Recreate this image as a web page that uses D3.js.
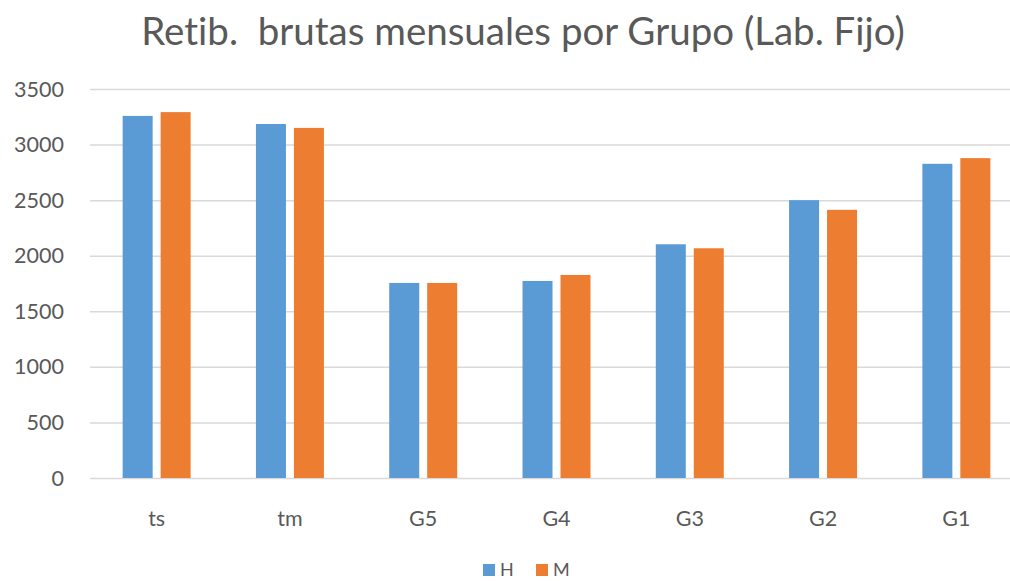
<!DOCTYPE html>
<html>
<head>
<meta charset="utf-8">
<script src="https://cdn.jsdelivr.net/npm/d3@7/dist/d3.min.js"></script>
<style>
    body { margin: 0; background: #fff; }
    text { font-family: Lato, "Open Sans", sans-serif; fill: #595959; font-variant-ligatures: none; }
</style>
</head>
<body>
<svg id="chart" width="1010" height="581"></svg>
<script>
// data
var groups = ['ts', 'tm', 'G5', 'G4', 'G3', 'G2', 'G1'];
var series = ['H', 'M'];
var valuesH = [3258, 3185, 1755, 1773, 2103, 2500, 2827];
var valuesM = [3292, 3150, 1755, 1827, 2067, 2413, 2878];
var yTicks = [0, 500, 1000, 1500, 2000, 2500, 3000, 3500];
var colors = { H: '#5B9BD5', M: '#ED7D31' };

var W = 1010, H = 581;
var m = { left: 90, right: -13, top: 89, bottom: 103 }; //plot is cut on the right

var svg = d3.select('#chart');

var x0 = d3.scaleBand()
    .domain(groups)
    .range([m.left, W - m.right])
    .paddingInner(0.49)
    .paddingOuter(0.245);

var x1 = d3.scaleBand()
    .domain(series)
    .range([0, x0.bandwidth()])
    .paddingInner(0.21);

var y = d3.scaleLinear()
    .domain([0, 3500])
    .range([H - m.bottom, m.top]);

//grid
svg.append('g')
    .selectAll('line')
    .data(yTicks)
    .join('line')
        .attr('x1', m.left)
        .attr('x2', W)
        .attr('y1', function (d) { return y(d) + 0.5; })
        .attr('y2', function (d) { return y(d) + 0.5; })
        .attr('stroke', '#D9D9D9')
        .attr('stroke-width', 1.5);

//y labels
svg.append('g')
    .selectAll('text')
    .data(yTicks)
    .join('text')
        .attr('x', 64)
        .attr('y', function (d) { return y(d); })
        .attr('dy', '0.35em')
        .attr('text-anchor', 'end')
        .style('font-size', '21.5px')
        .text(function (d) { return d; });

//bars
var rows = groups.map(function (g, i) {
    return { group: g, H: valuesH[i], M: valuesM[i] };
});

svg.append('g')
    .selectAll('g')
    .data(rows)
    .join('g')
        .attr('transform', function (d) { return 'translate(' + x0(d.group) + ',0)'; })
    .selectAll('rect')
    .data(function (d) { return series.map(function (s) { return { key: s, value: d[s] }; }); })
    .join('rect')
        .attr('x', function (d) { return x1(d.key); })
        .attr('y', function (d) { return y(d.value); })
        .attr('width', x1.bandwidth())
        .attr('height', function (d) { return y(0) - y(d.value); })
        .attr('fill', function (d) { return colors[d.key]; });

//x labels
svg.append('g')
    .selectAll('text')
    .data(groups)
    .join('text')
        .attr('x', function (d) { return x0(d) + x0.bandwidth() / 2; })
        .attr('y', 518)
        .attr('dy', '0.35em')
        .attr('text-anchor', 'middle')
        .style('font-size', '21.5px')
        .text(function (d) { return d; });

//title
svg.append('text')
    .attr('x', 523)
    .attr('y', 45)
    .attr('text-anchor', 'middle')
    .style('font-size', '38.5px')
    .text('Retib.  brutas mensuales por Grupo (Lab. Fijo)')
    .attr('xml:space', 'preserve');

//legend
var leg = svg.append('g')
    .attr('transform', 'translate(483,563)');
var item = leg.selectAll('g')
    .data(series)
    .join('g')
        .attr('transform', function (d, i) { return 'translate(' + (i * 53) + ',0)'; });
item.append('rect')
    .attr('y', 1)
    .attr('width', 12)
    .attr('height', 12)
    .attr('fill', function (d) { return colors[d]; });
item.append('text')
    .attr('x', 17)
    .attr('y', 7)
    .attr('dy', '0.35em')
    .style('font-size', '18px')
    .text(function (d) { return d; });
</script>
</body>
</html>
